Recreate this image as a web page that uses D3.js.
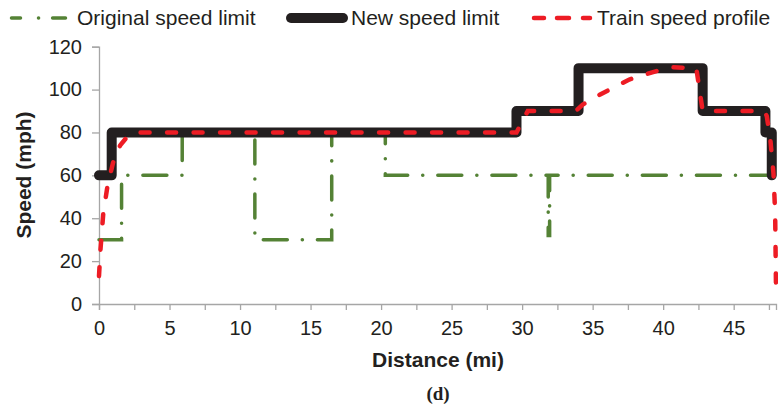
<!DOCTYPE html>
<html>
<head>
<meta charset="utf-8">
<script src="https://cdn.jsdelivr.net/npm/d3@7"></script>
<style>
  body { margin: 0; background: #fff; }
  svg { display: block; font-family: "Liberation Sans", Arial, sans-serif; }
</style>
</head>
<body>
<script>
// distance (mi), speed (mph)
var originalLimit = [[0,30],[1.6,30],[1.6,60],[5.9,60],[5.9,80],[11.05,80],[11.05,30],[16.5,30],[16.5,80],
    [20.3,80],[20.3,60],[31.85,60],[31.85,32],[31.95,32],[31.95,60],[47.6,60]];
var newLimit = [[0,60],[0.9,60],[0.9,80],[29.6,80],[29.6,90],[34.0,90],[34.0,110],[42.8,110],[42.8,90],
    [47.25,90],[47.25,80],[47.7,80],[47.7,60]];
var trainProfile = [[0,13],[0.1,25],[0.3,42],[0.6,55],[1.0,66],[1.5,74],[2.0,78],[2.5,80],[29.6,80],[30.4,90],
    [33.8,90],[34.3,93],[35.5,97.6],[37.6,104.7],[39.7,109],[40.6,110.4],[42.35,110],[42.8,90],[47.2,90],
    [47.35,87.5],[47.6,76.6],[47.82,61],[47.94,42.5],[48.0,7.5]];
var yTicks = [0,20,40,60,80,100,120];
var xTicks = d3.range(0, 48, 2.5);

var W = 778, H = 407;
var svg = d3.select('body').append('svg').attr('width', W).attr('height', H);

var x = d3.scaleLinear().domain([0, 48]).range([99, 776]);
var y = d3.scaleLinear().domain([0, 120]).range([304, 46.7]);

var axisColor = '#a6a6a6';

// AXES
var yAxis = svg.append('g').attr('transform', 'translate(99,0)')
    .call(d3.axisLeft(y).tickValues(yTicks).tickSize(7).tickPadding(10));
var xAxis = svg.append('g').attr('transform', 'translate(0,304)')
    .call(d3.axisBottom(x).tickValues(xTicks).tickSize(6).tickPadding(11)
        .tickFormat(function (d) { return d % 5 === 0 ? d : ''; }));
[xAxis, yAxis].forEach(function (g) {
    g.select('.domain').attr('stroke', axisColor).attr('stroke-width', 1.3);
    g.selectAll('.tick line').attr('stroke', axisColor).attr('stroke-width', 1.3);
    g.selectAll('.tick text').attr('fill', '#231f20')
        .style('font-size', '20px').style('font-family', '"Liberation Sans", Arial, sans-serif');
});

// SERIES
var line = d3.line().x(function (d) { return x(d[0]); }).y(function (d) { return y(d[1]); });

var green = '#548235', black = '#231f20', red = '#ed1c24';

svg.append('path').datum(originalLimit).attr('d', line)
    .attr('fill', 'none').attr('stroke', green).attr('stroke-width', 3.5)
    .attr('stroke-dasharray', '24,15,0.1,15').attr('stroke-linecap', 'round');

svg.append('path').datum(newLimit).attr('d', line)
    .attr('fill', 'none').attr('stroke', black).attr('stroke-width', 10)
    .attr('stroke-linejoin', 'round').attr('stroke-linecap', 'round');

svg.append('path').datum(trainProfile).attr('d', line)
    .attr('fill', 'none').attr('stroke', red).attr('stroke-width', 4.5)
    .attr('stroke-dasharray', '9,17.5').attr('stroke-linecap', 'round');

// LEGEND
var lg = svg.append('g');
lg.append('line').attr('x1', 11.5).attr('x2', 65.5).attr('y1', 18).attr('y2', 18)
    .attr('stroke', green).attr('stroke-width', 3.5).attr('stroke-linecap', 'round')
    .attr('stroke-dasharray', '9,18,0.1,14,20');
lg.append('text').attr('x', 77).attr('y', 25).text('Original speed limit');
lg.append('line').attr('x1', 291).attr('x2', 343).attr('y1', 18).attr('y2', 18)
    .attr('stroke', black).attr('stroke-width', 10).attr('stroke-linecap', 'round');
lg.append('text').attr('x', 351).attr('y', 25).text('New speed limit');
lg.append('line').attr('x1', 534).attr('x2', 590).attr('y1', 18).attr('y2', 18)
    .attr('stroke', red).attr('stroke-width', 4.5).attr('stroke-linecap', 'round')
    .attr('stroke-dasharray', '10,13,12,14');
lg.append('text').attr('x', 597).attr('y', 25).text('Train speed profile');
lg.selectAll('text').attr('fill', black).style('font-size', '21px');

// TITLES
svg.append('text').attr('transform', 'translate(31,175) rotate(-90)')
    .attr('text-anchor', 'middle').attr('fill', black)
    .style('font-size', '21px').style('font-weight', 'bold').text('Speed (mph)');
svg.append('text').attr('x', 438).attr('y', 367)
    .attr('text-anchor', 'middle').attr('fill', black)
    .style('font-size', '21px').style('font-weight', 'bold').text('Distance (mi)');
svg.append('text').attr('x', 438).attr('y', 400)
    .attr('text-anchor', 'middle').attr('fill', black)
    .style('font-family', '"Liberation Serif", "Times New Roman", serif')
    .style('font-size', '19px').style('font-weight', 'bold').text('(d)');
</script>
</body>
</html>
